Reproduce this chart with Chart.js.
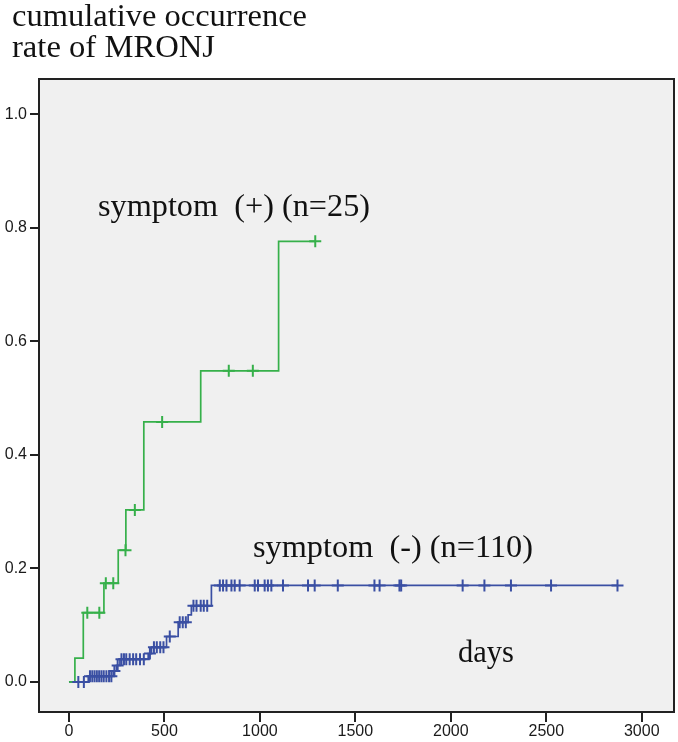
<!DOCTYPE html>
<html>
<head>
<meta charset="utf-8">
<script src="https://cdn.jsdelivr.net/npm/chart.js@4.4.1/dist/chart.umd.min.js"></script>
<style>
  html, body { margin: 0; padding: 0; background: #ffffff; }
  #wrap { width: 678px; height: 742px; position: relative; }
</style>
</head>
<body>
<div id="wrap"><canvas id="c" width="678" height="742"></canvas></div>
<script>
// ---- data ----
const xTicks = [0, 500, 1000, 1500, 2000, 2500, 3000];
const yTicks = [0.0, 0.2, 0.4, 0.6, 0.8, 1.0];

// symptom (+) step function (time, cumulative rate)
const posTimes = [0, 31, 75, 183, 258, 298, 392, 690, 1098, 1290];
const posRates = [0, 0.042, 0.122, 0.174, 0.232, 0.303, 0.458, 0.548, 0.776, 0.776];
// symptom (+) censored marks
const posCensorTimes = [96, 159, 193, 232, 296, 345, 488, 837, 963, 1290];
const posCensorRates = [0.122, 0.122, 0.174, 0.174, 0.232, 0.303, 0.458, 0.548, 0.548, 0.776];

// symptom (-) step function
const negTimes = [0, 101, 232, 249, 267, 415, 432, 511, 572, 624, 641, 746, 2873];
const negRates = [0, 0.010, 0.019, 0.029, 0.040, 0.050, 0.061, 0.080, 0.105, 0.118, 0.134, 0.170, 0.170];
// symptom (-) censored marks
const negCensorTimes = [49, 78,
  110, 122, 134, 146, 158, 170, 182, 196, 210, 222,
  238, 255,
  275, 288, 300, 318, 336, 352, 372, 392,
  424,
  445, 460, 478, 495,
  528,
  580, 596, 612,
  652, 668, 690, 706, 724,
  790, 807, 825, 851, 868, 894, 973, 990, 1025, 1042, 1060, 1121, 1252, 1287, 1408,
  1600, 1627, 1731, 1740, 2062, 2176, 2315, 2525, 2873];
const negCensorRates = [0, 0,
  0.010, 0.010, 0.010, 0.010, 0.010, 0.010, 0.010, 0.010, 0.010, 0.010,
  0.019, 0.029,
  0.040, 0.040, 0.040, 0.040, 0.040, 0.040, 0.040, 0.040,
  0.050,
  0.061, 0.061, 0.061, 0.061,
  0.080,
  0.105, 0.105, 0.105,
  0.134, 0.134, 0.134, 0.134, 0.134,
  0.170, 0.170, 0.170, 0.170, 0.170, 0.170, 0.170, 0.170, 0.170, 0.170, 0.170, 0.170, 0.170, 0.170, 0.170,
  0.170, 0.170, 0.170, 0.170, 0.170, 0.170, 0.170, 0.170, 0.170];

const titleLines = ['cumulative occurrence', 'rate of MRONJ'];
const posLabel = 'symptom  (+) (n=25)';
const negLabel = 'symptom  (-) (n=110)';
const xLabel = 'days';

// ---- build ----
const zip = (xs, ys) => xs.map((x, i) => ({ x: x, y: ys[i] }));
const GREEN = '#36b04a';
const BLUE = '#3a4fa3';

const bgPlugin = {
  id: 'bg',
  beforeDatasetsDraw(chart) {
    const { ctx, chartArea: a } = chart;
    ctx.save();
    ctx.fillStyle = '#f0f0f0';
    ctx.fillRect(a.left, a.top, a.right - a.left, a.bottom - a.top);
    ctx.restore();
  },
  afterDraw(chart) {
    const { ctx, chartArea: a } = chart;
    ctx.save();
    ctx.strokeStyle = '#222222';
    ctx.lineWidth = 2;
    ctx.strokeRect(a.left, a.top, a.right - a.left, a.bottom - a.top);
    ctx.restore();
  }
};

function drawFit(ctx, str, x, baseline, width, size) {
  ctx.font = size + 'px "Liberation Serif", "Times New Roman", serif';
  const w = ctx.measureText(str).width;
  ctx.save();
  ctx.translate(x, baseline);
  ctx.scale(width / w, 1);
  ctx.fillStyle = '#111111';
  ctx.textBaseline = 'alphabetic';
  ctx.textAlign = 'left';
  ctx.fillText(str, 0, 0);
  ctx.restore();
}

const textPlugin = {
  id: 'texts',
  afterDraw(chart) {
    const ctx = chart.ctx;
    drawFit(ctx, titleLines[0], 12, 26, 295, 31);
    drawFit(ctx, titleLines[1], 12, 57, 203, 31);
    drawFit(ctx, posLabel, 98, 216, 272, 31);
    drawFit(ctx, negLabel, 253, 557, 280, 31);
    drawFit(ctx, xLabel, 458, 662, 56, 31);
  }
};

const tickFont = { family: '"Liberation Sans", Arial, sans-serif', size: 16 };

new Chart(document.getElementById('c'), {
  type: 'scatter',
  data: {
    datasets: [
      { label: 'posCensor', data: zip(posCensorTimes, posCensorRates), showLine: false,
        pointStyle: 'cross', pointRadius: 6, pointBorderWidth: 2, borderColor: GREEN, backgroundColor: GREEN, order: 1 },
      { label: 'negCensor', data: zip(negCensorTimes, negCensorRates), showLine: false,
        pointStyle: 'cross', pointRadius: 6, pointBorderWidth: 2, borderColor: BLUE, backgroundColor: BLUE, order: 2 },
      { label: 'pos', data: zip(posTimes, posRates), showLine: true, stepped: 'before',
        pointRadius: 0, borderWidth: 1.7, borderColor: GREEN, order: 3 },
      { label: 'neg', data: zip(negTimes, negRates), showLine: true, stepped: 'before',
        pointRadius: 0, borderWidth: 1.7, borderColor: BLUE, order: 4 }
    ]
  },
  options: {
    responsive: false,
    animation: false,
    layout: { autoPadding: false, padding: { top: 79, right: 4, left: 0, bottom: 0 } },
    plugins: { legend: { display: false }, tooltip: { enabled: false } },
    scales: {
      x: {
        type: 'linear', min: -157, max: 3169,
        afterBuildTicks(s) { s.ticks = xTicks.map(v => ({ value: v })); },
        afterFit(s) { s.height = 30; s.paddingLeft = 0; s.paddingRight = 0; },
        ticks: { font: tickFont, color: '#1a1a1a', padding: 0, maxRotation: 0, autoSkip: false,
                 callback: v => String(v) },
        grid: { drawOnChartArea: false, drawTicks: true, tickLength: 10, color: '#222222', lineWidth: 2 },
        border: { display: false }
      },
      y: {
        type: 'linear', min: -0.053, max: 1.062,
        afterBuildTicks(s) { s.ticks = yTicks.map(v => ({ value: v })); },
        afterFit(s) { s.width = 39; s.paddingTop = 0; s.paddingBottom = 0; },
        ticks: { font: tickFont, color: '#1a1a1a', padding: 3, autoSkip: false,
                 callback: v => Number(v).toFixed(1) },
        grid: { drawOnChartArea: false, drawTicks: true, tickLength: 9, color: '#222222', lineWidth: 2 },
        border: { display: false }
      }
    }
  },
  plugins: [bgPlugin, textPlugin]
});
</script>
</body>
</html>
